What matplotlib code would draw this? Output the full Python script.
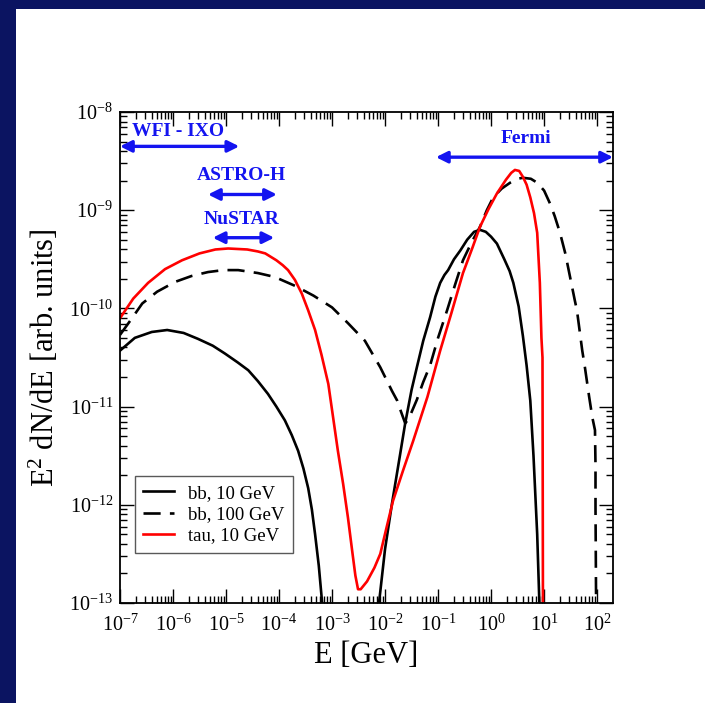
import numpy as np
import matplotlib
matplotlib.use('Agg')
import matplotlib.pyplot as plt
from matplotlib.patches import Rectangle

plt.rcParams['font.family'] = ['Liberation Serif', 'DejaVu Serif']
plt.rcParams['mathtext.fontset'] = 'custom'
plt.rcParams['mathtext.rm'] = 'Liberation Serif'
plt.rcParams['mathtext.it'] = 'Liberation Serif:italic'
plt.rcParams['mathtext.bf'] = 'Liberation Serif:bold'
plt.rcParams['axes.unicode_minus'] = False

# spectra as log10(E/GeV), log10(E^2 dN/dE)
# bb, 10 GeV: low-energy (IC) branch and high-energy (prompt) branch
bb10_lo_logE = [-7.00, -6.72, -6.40, -6.11, -5.80, -5.53, -5.25, -5.02, -4.78, -4.58,
                -4.40, -4.21, -4.05, -3.89, -3.76, -3.64, -3.54, -3.45, -3.38, -3.32,
                -3.25, -3.19, -3.16]
bb10_lo_logy = [-10.43, -10.30, -10.24, -10.22, -10.25, -10.31, -10.38, -10.46, -10.55, -10.63,
                -10.74, -10.87, -11.00, -11.14, -11.29, -11.45, -11.63, -11.83, -12.05, -12.30,
                -12.62, -12.98, -13.20]
bb10_hi_logE = [-2.16, -2.11, -2.00, -1.87, -1.72, -1.62, -1.50, -1.40, -1.28, -1.15,
                -1.05, -0.96, -0.88, -0.81, -0.70, -0.58, -0.45, -0.32, -0.21, -0.10,
                0.00, 0.11, 0.25, 0.35, 0.42, 0.52, 0.60, 0.67, 0.74, 0.80,
                0.87, 0.91, 0.92]
bb10_hi_logy = [-13.20, -12.98, -12.45, -11.99, -11.50, -11.17, -10.83, -10.60, -10.33, -10.09,
                -9.88, -9.74, -9.66, -9.61, -9.50, -9.41, -9.30, -9.22, -9.20, -9.22,
                -9.27, -9.34, -9.50, -9.62, -9.74, -9.98, -10.28, -10.58, -10.94, -11.50,
                -12.30, -12.98, -13.20]

# bb, 100 GeV
bb100_logE = [-7.00, -6.80, -6.58, -6.30, -5.96, -5.65, -5.34, -5.05, -4.77, -4.40,
              -4.08, -3.70, -3.35, -3.00, -2.70, -2.38, -2.09, -1.87, -1.77, -1.70,
              -1.62, -1.55, -1.40, -1.28, -1.15, -1.00, -0.83, -0.68, -0.53, -0.37,
              -0.21, -0.08, 0.04, 0.20, 0.36, 0.50, 0.60, 0.75, 0.87, 1.00,
              1.11, 1.20, 1.30, 1.40, 1.49, 1.58, 1.62, 1.72, 1.77, 1.85,
              1.91, 1.96, 1.97, 1.97, 1.98, 1.98]
bb100_logy = [-10.27, -10.12, -9.95, -9.83, -9.73, -9.67, -9.63, -9.61, -9.61, -9.64,
              -9.68, -9.77, -9.87, -9.99, -10.15, -10.33, -10.60, -10.84, -10.94, -11.05,
              -11.17, -11.12, -10.93, -10.75, -10.58, -10.30, -10.02, -9.76, -9.51, -9.33,
              -9.17, -9.00, -8.87, -8.78, -8.72, -8.68, -8.67, -8.68, -8.72, -8.80,
              -8.93, -9.06, -9.23, -9.44, -9.68, -9.92, -10.02, -10.43, -10.60, -10.90,
              -11.11, -11.24, -11.60, -12.03, -12.91, -13.50]

# tau, 10 GeV
tau10_logE = [-7.00, -6.75, -6.47, -6.15, -5.83, -5.50, -5.20, -4.96, -4.60, -4.40,
              -4.26, -4.05, -3.93, -3.83, -3.70, -3.57, -3.45, -3.32, -3.20, -3.07,
              -2.98, -2.89, -2.79, -2.70, -2.62, -2.56, -2.51, -2.46, -2.40, -2.34,
              -2.20, -2.09, -1.98, -1.85, -1.66, -1.47, -1.20, -0.96, -0.75, -0.53,
              -0.35, -0.21, -0.05, 0.11, 0.28, 0.38, 0.45, 0.53, 0.60, 0.67,
              0.74, 0.81, 0.87, 0.92, 0.95, 0.97, 0.98]
tau10_logy = [-10.10, -9.90, -9.74, -9.60, -9.51, -9.44, -9.40, -9.39, -9.40, -9.42,
              -9.44, -9.51, -9.56, -9.61, -9.71, -9.85, -10.02, -10.22, -10.47, -10.77,
              -11.11, -11.45, -11.79, -12.13, -12.47, -12.72, -12.86, -12.86, -12.82, -12.78,
              -12.64, -12.50, -12.25, -11.96, -11.65, -11.35, -10.90, -10.43, -10.05, -9.64,
              -9.38, -9.17, -8.99, -8.83, -8.69, -8.62, -8.59, -8.60, -8.66, -8.74,
              -8.87, -9.03, -9.23, -9.74, -10.30, -10.50, -13.50]

# instrument bands: name, log10 E range, log10 y of the arrow, label position
instruments = ['WFI - IXO', 'ASTRO-H', 'NuSTAR', 'Fermi']
inst_logE_lo = [-7.00, -5.34, -5.25, -1.04]
inst_logE_hi = [-4.75, -4.04, -4.09, 2.30]
inst_arrow_logy = [-8.35, -8.84, -9.28, -8.46]
inst_text_logE = [-5.91, -4.70, -4.70, 0.66]
inst_text_logy = [-8.20, -8.65, -9.09, -8.27]

navy = '#0b1461'
blue = '#1414f0'

fig = plt.figure(figsize=(7.05, 7.03), dpi=100)
fig.patch.set_facecolor(navy)
fig.patches.append(Rectangle((16 / 705, 0), 1, 1 - 9 / 703, transform=fig.transFigure,
                             facecolor='white', edgecolor='none', zorder=-10))

ax = fig.add_axes([120 / 705, 100 / 703, 493 / 705, 491 / 703])

tolin = lambda a: 10 ** np.array(a)

ax.plot(tolin(bb10_lo_logE), tolin(bb10_lo_logy), color='black', lw=1.9, label='bb, 10 GeV')
ax.plot(tolin(bb10_hi_logE), tolin(bb10_hi_logy), color='black', lw=1.9)
ax.plot(tolin(bb100_logE), tolin(bb100_logy), color='black', lw=1.9, ls=(0, (6.5, 3.5)),
        label='bb, 100 GeV')
ax.plot(tolin(tau10_logE), tolin(tau10_logy), color='red', lw=1.9, label='tau, 10 GeV')

for name, lo, hi, ya, xt, yt in zip(instruments, inst_logE_lo, inst_logE_hi,
                                      inst_arrow_logy, inst_text_logE, inst_text_logy):
    ax.annotate('', xy=(10 ** hi, 10 ** ya), xytext=(10 ** lo, 10 ** ya),
                arrowprops=dict(arrowstyle='<|-|>', color=blue, lw=2.4,
                                mutation_scale=17, shrinkA=0, shrinkB=0),
                annotation_clip=False)
    ax.text(10 ** xt, 10 ** yt, name, color=blue, fontsize=14, fontweight='bold',
            ha='center', va='center')

ax.set_xscale('log')
ax.set_yscale('log')
ax.set_xlim(1e-7, 10 ** 2.3)
ax.set_ylim(1e-13, 1e-8)

ax.xaxis.set_major_locator(matplotlib.ticker.LogLocator(base=10, numticks=20))
ax.xaxis.set_minor_locator(matplotlib.ticker.LogLocator(base=10, subs=np.arange(2, 10), numticks=20))
ax.yaxis.set_major_locator(matplotlib.ticker.LogLocator(base=10, numticks=20))
ax.yaxis.set_minor_locator(matplotlib.ticker.LogLocator(base=10, subs=np.arange(2, 10), numticks=20))

ax.tick_params(which='both', direction='in', top=True, right=True, width=1)
ax.tick_params(which='major', length=10, labelsize=14.5)
ax.tick_params(axis='x', which='major', pad=8)
ax.tick_params(axis='y', which='major', pad=5)
ax.tick_params(which='minor', length=5)
for s in ax.spines.values():
    s.set_linewidth(1.3)

ax.set_xlabel('E [GeV]', fontsize=22, labelpad=4)
ax.set_ylabel(r'$\mathrm{E}^2$ dN/dE [arb. units]', fontsize=22, labelpad=6)

leg = ax.legend(loc='lower left', bbox_to_anchor=(0.030, 0.102), borderaxespad=0,
                fontsize=13.5, handlelength=1.65, handletextpad=0.75, labelspacing=0.22,
                fancybox=False, framealpha=1, edgecolor='0.35', borderpad=0.45)
leg.get_frame().set_linewidth(1.0)

fig.savefig('out.png', dpi=100, facecolor=fig.get_facecolor())
